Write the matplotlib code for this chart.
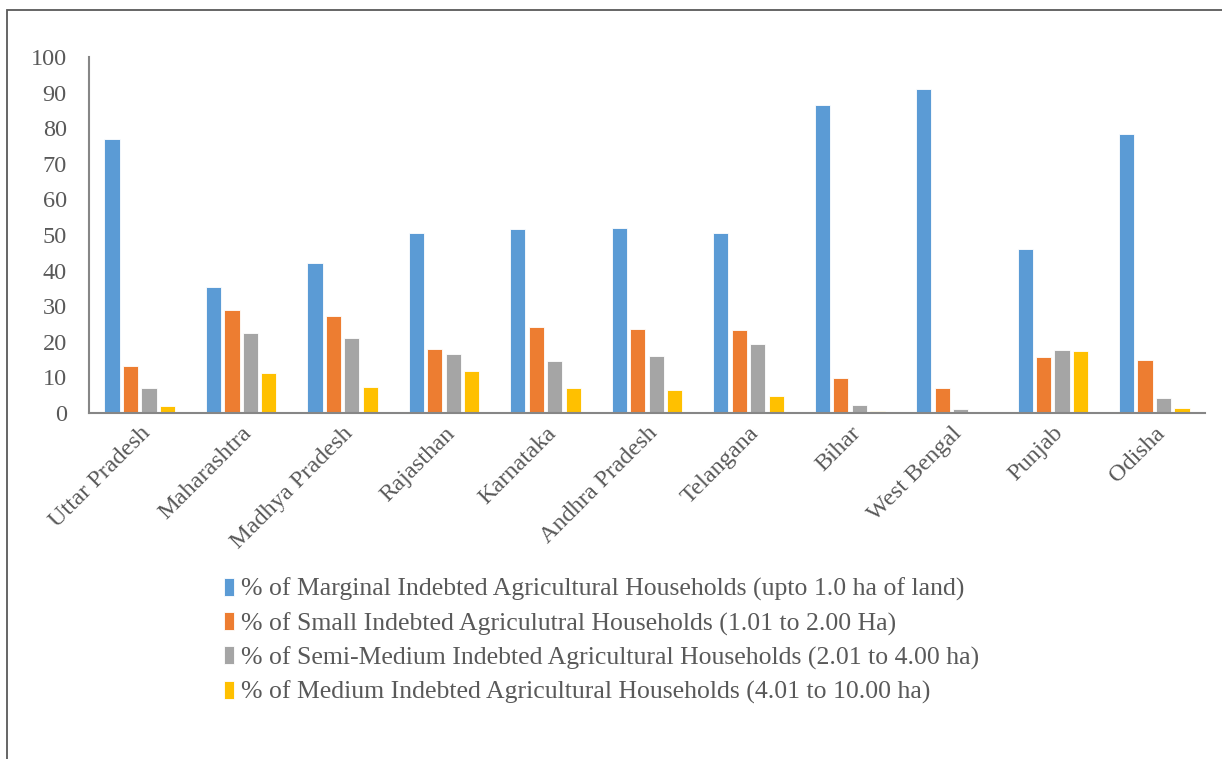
import matplotlib
matplotlib.use("Agg")
import matplotlib.pyplot as plt
import matplotlib.patches as mpatches
import numpy as np

states = ["Uttar Pradesh", "Maharashtra", "Madhya Pradesh", "Rajasthan", "Karnataka",
          "Andhra Pradesh", "Telangana", "Bihar", "West Bengal", "Punjab", "Odisha"]
marginal = [77.0, 35.4, 42.1, 50.7, 51.7, 52.0, 50.7, 86.5, 91.0, 46.0, 78.5]
small = [13.2, 28.9, 27.2, 18.0, 24.2, 23.6, 23.3, 9.8, 7.1, 15.7, 14.9]
semi_medium = [7.0, 22.5, 21.1, 16.6, 14.5, 15.9, 19.4, 2.3, 1.2, 17.7, 4.1]
medium = [2.0, 11.2, 7.3, 11.8, 7.0, 6.5, 4.7, 0.5, 0.0, 17.4, 1.5]
series_labels = [
    "% of Marginal Indebted Agricultural Households (upto 1.0 ha of land)",
    "% of Small Indebted Agriculutral Households (1.01 to 2.00 Ha)",
    "% of Semi-Medium Indebted Agricultural Households (2.01 to 4.00 ha)",
    "% of Medium Indebted Agricultural Households (4.01 to 10.00 ha)",
]
yticks = [0, 10, 20, 30, 40, 50, 60, 70, 80, 90, 100]

colors = ["#5B9BD5", "#ED7D31", "#A5A5A5", "#FFC000"]
txt = "#595959"
plt.rcParams['font.family'] = ['Liberation Serif', 'DejaVu Serif']

fig = plt.figure(figsize=(12.22, 7.59), dpi=100)
W, H = 1222, 759
# outer frame
fig.patches.append(mpatches.Rectangle((7 / W, -0.1), 1.2, 1 - 10 / H + 0.1,
                                      transform=fig.transFigure, fill=False,
                                      edgecolor="#595959", linewidth=1.3))

ax = fig.add_axes([89 / W, 1 - 413 / H, (1205 - 89) / W, (413 - 57) / H])
x = np.arange(len(states))
step = 0.182
width = 0.15
all_series = [marginal, small, semi_medium, medium]
handles = []
for i, (vals, c, lab) in enumerate(zip(all_series, colors, series_labels)):
    b = ax.bar(x + (i - 1.5) * step, vals, width=width, color=c, label=lab,
               edgecolor="white", linewidth=0.6)
    handles.append(b)

ax.set_xlim(-0.5, len(states) - 0.5)
ax.set_ylim(0, 100)
ax.set_yticks(yticks)
ax.set_yticklabels([str(t) for t in yticks], fontsize=17.5, color=txt)
ax.tick_params(axis="y", length=0, pad=16)
ax.tick_params(axis="x", length=0, pad=7)
ax.set_xticks(x)
ax.set_xticklabels(states, rotation=45, ha="right", rotation_mode="anchor",
                   fontsize=17.5, color=txt)
for s in ["top", "right"]:
    ax.spines[s].set_visible(False)
for s in ["left", "bottom"]:
    ax.spines[s].set_color("#868686")
    ax.spines[s].set_linewidth(1.5)

fig.legend(handles=handles, labels=series_labels, loc="upper left",
           bbox_to_anchor=(224 / W, 1 - 578 / H), frameon=False, fontsize=18.5,
           labelcolor=txt, handlelength=0.4, handleheight=0.7, handletextpad=0.25,
           labelspacing=0.42, borderpad=0, borderaxespad=0)

fig.savefig("out.png", dpi=100)
